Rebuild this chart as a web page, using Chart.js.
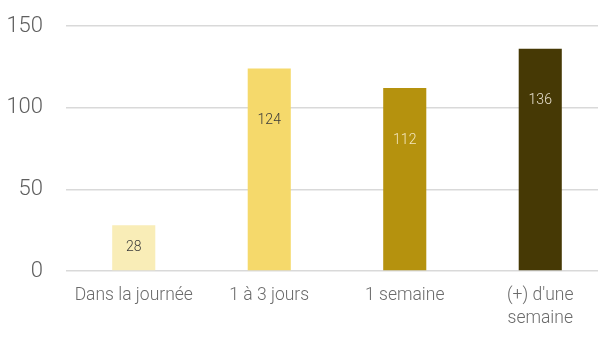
<!DOCTYPE html>
<html>
<head>
<meta charset="utf-8">
<script src="https://cdn.jsdelivr.net/npm/chart.js@4/dist/chart.umd.min.js"></script>
<style>
  html, body { margin: 0; padding: 0; background: #fff; overflow: hidden; }
  #wrap { position: relative; width: 608px; height: 340px; }
</style>
</head>
<body>
<div id="wrap"><canvas id="c"></canvas></div>
<script>
// Délai de réponse : nombre de réponses par catégorie
const categories = ['Dans la journée', '1 à 3 jours', '1 semaine', ["(+) d'une", 'semaine']];
const values = [28, 124, 112, 136];
const barColors = ['#F9EDB7', '#F5D96B', '#B5920E', '#463905'];
const valueLabelColors = ['#3a3a3a', '#3a3a3a', '#F3E6BE', '#E9E2D2'];
const yTicks = [0, 50, 100, 150];

const FONT = 'Roboto, "Open Sans", sans-serif';

// Writes each bar's value inside the bar, near its top
const valueLabels = {
  id: 'valueLabels',
  afterDatasetsDraw(chart) {
    const ctx = chart.ctx;
    const meta = chart.getDatasetMeta(0);
    ctx.save();
    ctx.font = '300 14px ' + FONT;
    ctx.textAlign = 'center';
    ctx.textBaseline = 'middle';
    meta.data.forEach((bar, i) => {
      const h = bar.base - bar.y;
      const y = bar.y + Math.min(h / 2, 52);
      ctx.fillStyle = valueLabelColors[i];
      ctx.fillText(String(values[i]), bar.x, y);
    });
    ctx.restore();
  }
};

new Chart(document.getElementById('c'), {
  type: 'bar',
  data: {
    labels: categories,
    datasets: [{
      data: values,
      backgroundColor: barColors,
      borderWidth: 0,
      categoryPercentage: 1,
      barPercentage: 0.318
    }]
  },
  options: {
    responsive: true,
    maintainAspectRatio: false,
    animation: false,
    layout: { padding: { top: 26, left: 0, right: 0, bottom: 0 } },
    plugins: { legend: { display: false }, tooltip: { enabled: false } },
    scales: {
      x: {
        grid: { display: false, drawTicks: false },
        border: { display: false },
        ticks: {
          padding: 13,
          color: '#6b6b6b',
          font: { family: FONT, size: 17.5, weight: '300', lineHeight: 1.3 },
          maxRotation: 0,
          autoSkip: false
        },
        afterFit(scale) { scale.height = 69; }
      },
      y: {
        min: 0,
        max: 150,
        afterBuildTicks(scale) { scale.ticks = yTicks.map(v => ({ value: v })); },
        grid: { color: '#D9D9D9', lineWidth: 1.5, drawTicks: false },
        border: { display: false },
        ticks: {
          padding: 23,
          color: '#5f5f5f',
          font: { family: FONT, size: 22, weight: '300' }
        },
        afterFit(scale) {
          scale.width = 66;
          scale.paddingTop = 0;
          scale.paddingBottom = 0;
        }
      }
    }
  },
  plugins: [valueLabels]
});
</script>
</body>
</html>
